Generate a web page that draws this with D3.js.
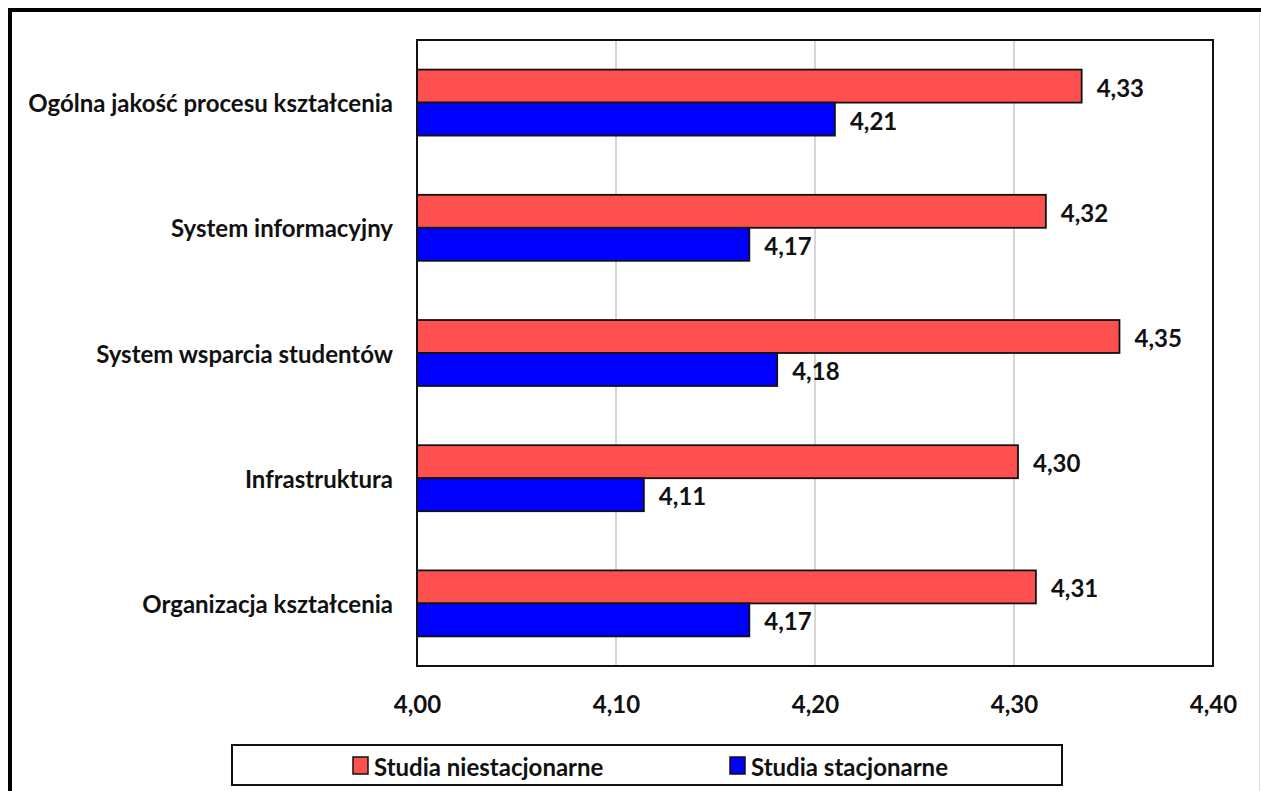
<!DOCTYPE html>
<html>
<head>
<meta charset="utf-8">
<script src="https://cdn.jsdelivr.net/npm/d3@7"></script>
<style>
  html, body { margin: 0; padding: 0; background: #fff; }
  svg text { font-family: Lato, "Open Sans", sans-serif; font-weight: bold; fill: #111; }
</style>
</head>
<body>
<svg id="chart" width="1261" height="791"></svg>
<script>
// ---- data ----
const categories = [
  "Ogólna jakość procesu kształcenia",
  "System informacyjny",
  "System wsparcia studentów",
  "Infrastruktura",
  "Organizacja kształcenia"
];
const seriesNames = ["Studia niestacjonarne", "Studia stacjonarne"];
const niestacjonarne = [4.334, 4.316, 4.353, 4.302, 4.311];
const stacjonarne   = [4.210, 4.167, 4.181, 4.114, 4.167];
const xTicks = [4.00, 4.10, 4.20, 4.30, 4.40];
const seriesColors = ["#ff5050", "#0000ff"];

const svg = d3.select("#chart");
const W = 1261, H = 791;
const plot = { left: 417, top: 40, right: 1213, bottom: 666 };
const FS = "24px";

// outer frame
svg.append("line").attr("x1", 10).attr("x2", 1261).attr("y1", 10).attr("y2", 10)
  .attr("stroke", "#000").attr("stroke-width", 4);
svg.append("line").attr("x1", 10).attr("x2", 10).attr("y1", 8).attr("y2", H)
  .attr("stroke", "#000").attr("stroke-width", 4);
svg.append("line").attr("x1", 1259.5).attr("x2", 1259.5).attr("y1", 12).attr("y2", H)
  .attr("stroke", "#e0e0e0").attr("stroke-width", 1);

const x = d3.scaleLinear().domain([4.0, 4.4]).range([plot.left, plot.right]);
const y = d3.scaleBand().domain(categories).range([plot.top, plot.bottom])
  .paddingInner(0.473).paddingOuter(0.2365);
const ySub = d3.scaleBand().domain(seriesNames).range([0, y.bandwidth()]);

const fmt = v => d3.format(".2f")(v).replace(".", ",");

// gridlines
svg.append("g").selectAll("line").data(xTicks.slice(1, -1)).join("line")
  .attr("x1", d => x(d)).attr("x2", d => x(d))
  .attr("y1", plot.top).attr("y2", plot.bottom)
  .attr("stroke", "#c8c8c8").attr("stroke-width", 1.5);

// x axis labels
const xAxis = d3.axisBottom(x).tickValues(xTicks).tickSize(0).tickPadding(0).tickFormat(fmt);
const gx = svg.append("g").attr("transform", `translate(0,${plot.bottom})`).call(xAxis);
gx.select(".domain").remove();
gx.selectAll("text").attr("dy", null).attr("y", 37)
  .attr("dominant-baseline", "central")
  .style("font-size", FS).style("font-family", "Lato, sans-serif").style("font-weight", "bold").attr("fill", "#111");

// y axis labels
const yAxis = d3.axisLeft(y).tickSize(0).tickPadding(0);
const gy = svg.append("g").attr("transform", `translate(${plot.left - 24},0)`).call(yAxis);
gy.select(".domain").remove();
gy.selectAll("text").attr("dy", null).attr("dominant-baseline", "central")
  .style("font-size", FS).style("font-family", "Lato, sans-serif").style("font-weight", "bold").attr("fill", "#111");

// bars
const rows = categories.map((c, i) => ({ cat: c, vals: [niestacjonarne[i], stacjonarne[i]] }));
const g = svg.append("g");
rows.forEach(r => {
  r.vals.forEach((v, si) => {
    const y0 = y(r.cat) + ySub(seriesNames[si]);
    g.append("rect")
      .attr("x", x(4.0)).attr("y", y0)
      .attr("width", x(v) - x(4.0)).attr("height", ySub.bandwidth())
      .attr("fill", seriesColors[si]).attr("stroke", "#111").attr("stroke-width", 1.8);
    g.append("text")
      .attr("x", x(v) + 15).attr("y", y0 + ySub.bandwidth() / 2 + 1)
      .attr("dominant-baseline", "central")
      .style("font-size", FS)
      .text(fmt(v));
  });
});

// plot border
svg.append("rect").attr("x", plot.left).attr("y", plot.top)
  .attr("width", plot.right - plot.left).attr("height", plot.bottom - plot.top)
  .attr("fill", "none").attr("stroke", "#111").attr("stroke-width", 2);

// legend
const lg = svg.append("g");
lg.append("rect").attr("x", 232).attr("y", 745).attr("width", 830).attr("height", 40)
  .attr("fill", "#fff").attr("stroke", "#111").attr("stroke-width", 2);
const legendX = [353, 730];
seriesNames.forEach((s, i) => {
  lg.append("rect").attr("x", legendX[i]).attr("y", 757).attr("width", 15).attr("height", 17)
    .attr("fill", seriesColors[i]).attr("stroke", "#111").attr("stroke-width", 1.5);
  lg.append("text").attr("x", legendX[i] + 21).attr("y", 766)
    .attr("dominant-baseline", "central").style("font-size", FS).text(s);
});
</script>
</body>
</html>
